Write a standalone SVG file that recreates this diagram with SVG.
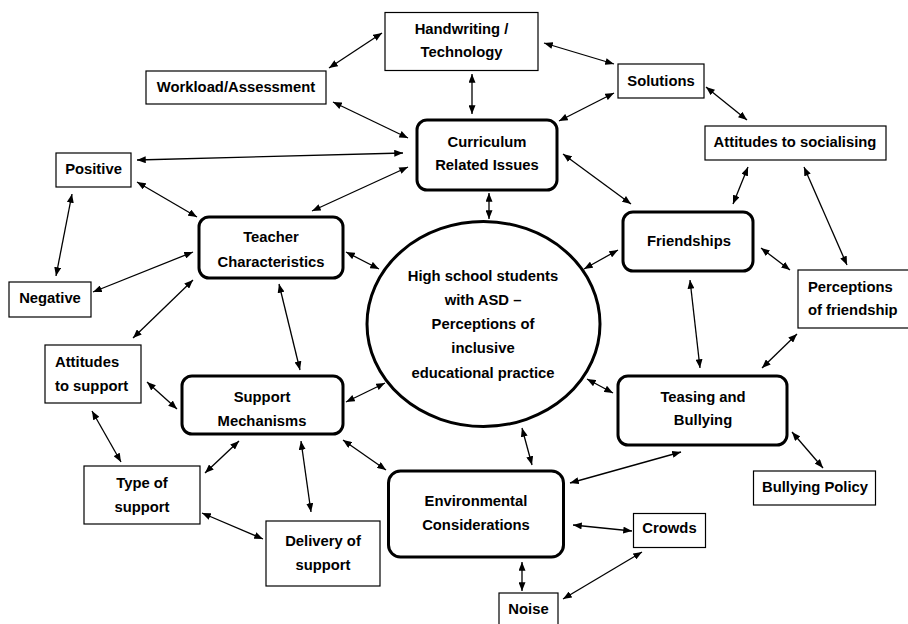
<svg xmlns="http://www.w3.org/2000/svg" width="908" height="624" viewBox="0 0 908 624">
<style>
.t{font-family:"Liberation Sans",Arial,sans-serif;font-weight:bold;font-size:14.8px;fill:#000;text-anchor:middle}
.l{text-anchor:start}
.thin{fill:#fff;stroke:#000;stroke-width:1.2}
.thick{fill:#fff;stroke:#000;stroke-width:3}
.c line{stroke:#000;stroke-width:1.3;marker-start:url(#a);marker-end:url(#a)}
</style>
<defs>
<marker id="a" viewBox="0 0 10 8" refX="10" refY="4" markerWidth="9" markerHeight="7" markerUnits="userSpaceOnUse" orient="auto-start-reverse">
<path d="M0,0 L10,4 L0,8 Z" fill="#000"/>
</marker>
</defs>
<rect width="908" height="624" fill="#fff"/>
<g class="c" id="connectors">
<line x1="329" y1="68" x2="382" y2="33"/>
<line x1="472" y1="74" x2="472" y2="114"/>
<line x1="333" y1="102" x2="408" y2="138"/>
<line x1="137" y1="160" x2="403" y2="153"/>
<line x1="312" y1="211" x2="408" y2="167"/>
<line x1="137" y1="182" x2="197" y2="217"/>
<line x1="544" y1="43" x2="614" y2="64"/>
<line x1="559" y1="121" x2="614" y2="93"/>
<line x1="706" y1="87" x2="747" y2="120"/>
<line x1="563" y1="154" x2="631" y2="204"/>
<line x1="748" y1="167" x2="733" y2="204"/>
<line x1="804" y1="167" x2="847" y2="265"/>
<line x1="72" y1="194" x2="56" y2="276"/>
<line x1="93" y1="292" x2="193" y2="252"/>
<line x1="133" y1="338" x2="193" y2="280"/>
<line x1="346" y1="252" x2="379" y2="269"/>
<line x1="279" y1="284" x2="300" y2="370"/>
<line x1="489" y1="193" x2="489" y2="219"/>
<line x1="584" y1="269" x2="618" y2="250"/>
<line x1="587" y1="379" x2="613" y2="393"/>
<line x1="346" y1="402" x2="385" y2="383"/>
<line x1="761" y1="248" x2="790" y2="270"/>
<line x1="690" y1="280" x2="700" y2="368"/>
<line x1="797" y1="334" x2="762" y2="368"/>
<line x1="792" y1="432" x2="823" y2="468"/>
<line x1="570" y1="483" x2="681" y2="452"/>
<line x1="147" y1="382" x2="177" y2="409"/>
<line x1="92" y1="411" x2="121" y2="462"/>
<line x1="205" y1="473" x2="239" y2="441"/>
<line x1="301" y1="441" x2="311" y2="512"/>
<line x1="202" y1="513" x2="263" y2="539"/>
<line x1="343" y1="440" x2="386" y2="470"/>
<line x1="522" y1="428" x2="532" y2="465"/>
<line x1="573" y1="525" x2="632" y2="531"/>
<line x1="522" y1="562" x2="522" y2="591"/>
<line x1="642" y1="552" x2="563" y2="599"/>
</g>
<g id="center">
<ellipse class="thick" cx="483.5" cy="324" rx="116.5" ry="102.5"/>
<text class="t" x="483" y="281">High school students</text>
<text class="t" x="483" y="305">with ASD –</text>
<text class="t" x="483" y="329">Perceptions of</text>
<text class="t" x="483" y="353">inclusive</text>
<text class="t" x="483" y="378">educational practice</text>
</g>
<g id="handwriting">
<rect class="thin" x="385" y="12.5" width="153" height="58"/>
<text class="t" x="461.5" y="34">Handwriting /</text>
<text class="t" x="461.5" y="57">Technology</text>
</g>
<g id="workload">
<rect class="thin" x="146" y="71" width="180" height="33"/>
<text class="t" x="236" y="92">Workload/Assessment</text>
</g>
<g id="curriculum">
<rect class="thick" x="417" y="120" width="140" height="70" rx="10"/>
<text class="t" x="487" y="147">Curriculum</text>
<text class="t" x="487" y="170">Related Issues</text>
</g>
<g id="solutions">
<rect class="thin" x="618" y="64" width="86" height="34"/>
<text class="t" x="661" y="86">Solutions</text>
</g>
<g id="attitudes-socialising">
<rect class="thin" x="705" y="126" width="181" height="34"/>
<text class="t" x="795" y="147">Attitudes to socialising</text>
</g>
<g id="positive">
<rect class="thin" x="56" y="153" width="75" height="34"/>
<text class="t" x="93.5" y="174">Positive</text>
</g>
<g id="negative">
<rect class="thin" x="9" y="282" width="82" height="35"/>
<text class="t" x="50" y="303">Negative</text>
</g>
<g id="teacher">
<rect class="thick" x="199" y="217" width="144" height="61" rx="10"/>
<text class="t" x="271" y="242">Teacher</text>
<text class="t" x="271" y="267">Characteristics</text>
</g>
<g id="friendships">
<rect class="thick" x="623" y="212" width="130" height="59" rx="10"/>
<text class="t" x="689" y="246">Friendships</text>
</g>
<g id="perceptions-friendship">
<rect class="thin" x="798" y="270" width="112" height="58"/>
<text class="t l" x="808" y="292">Perceptions</text>
<text class="t l" x="808" y="315">of friendship</text>
</g>
<g id="teasing">
<rect class="thick" x="618" y="376" width="169" height="69" rx="10"/>
<text class="t" x="703" y="402">Teasing and</text>
<text class="t" x="703" y="425">Bullying</text>
</g>
<g id="bullying-policy">
<rect class="thin" x="753.5" y="471" width="122" height="34"/>
<text class="t" x="815" y="492">Bullying Policy</text>
</g>
<g id="environmental">
<rect class="thick" x="388.5" y="471" width="175" height="86" rx="12"/>
<text class="t" x="476" y="506">Environmental</text>
<text class="t" x="476" y="530">Considerations</text>
</g>
<g id="crowds">
<rect class="thin" x="633.5" y="513.5" width="72" height="34"/>
<text class="t" x="669.5" y="533">Crowds</text>
</g>
<g id="noise">
<rect class="thin" x="499" y="593" width="59" height="33"/>
<text class="t" x="528.5" y="614">Noise</text>
</g>
<g id="attitudes-support">
<rect class="thin" x="45" y="345" width="96" height="58"/>
<text class="t l" x="55" y="367">Attitudes</text>
<text class="t l" x="55" y="391">to support</text>
</g>
<g id="support">
<rect class="thick" x="182" y="376" width="161" height="58" rx="10"/>
<text class="t" x="262" y="402">Support</text>
<text class="t" x="262" y="426">Mechanisms</text>
</g>
<g id="type-support">
<rect class="thin" x="84" y="466" width="116" height="58"/>
<text class="t" x="142" y="488">Type of</text>
<text class="t" x="142" y="512">support</text>
</g>
<g id="delivery-support">
<rect class="thin" x="266" y="521" width="114" height="65"/>
<text class="t" x="323" y="546">Delivery of</text>
<text class="t" x="323" y="570">support</text>
</g>
</svg>
